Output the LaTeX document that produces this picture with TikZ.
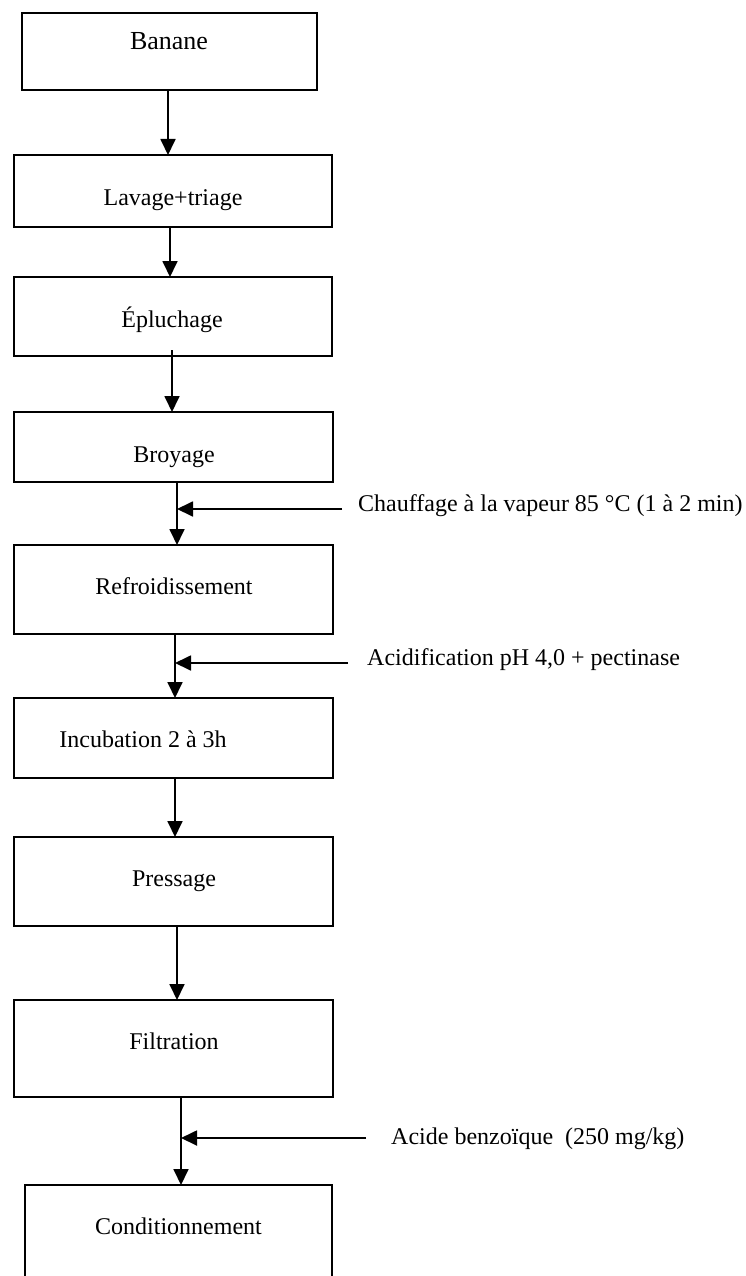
\documentclass[tikz,border=0pt]{standalone}
\usepackage{fontspec}
\setmainfont{Liberation Serif}
\usetikzlibrary{arrows.meta}
\begin{document}
\begin{tikzpicture}[x=1pt,y=-1pt,
  stepbox/.style={draw=black, line width=2pt, rectangle, inner sep=0pt, outer sep=0pt},
  lbl/.style={anchor=base, inner sep=0pt, font=\fontsize{24}{28}\selectfont},
  sidelbl/.style={anchor=base west, inner sep=0pt, font=\fontsize{24}{28}\selectfont},
  flow/.style={line width=1.8pt, -{Triangle[length=16pt,width=15pt]}}]
\useasboundingbox (0,0) rectangle (746,1276);
\clip (0,0) rectangle (746,1276);

% process boxes
\node[stepbox, minimum width=295pt, minimum height=77pt] (b1) at (169.5,51.5) {};
\node[stepbox, minimum width=318pt, minimum height=72pt] (b2) at (173,191) {};
\node[stepbox, minimum width=318pt, minimum height=79pt] (b3) at (173,316.5) {};
\node[stepbox, minimum width=319pt, minimum height=70pt] (b4) at (173.5,447) {};
\node[stepbox, minimum width=319pt, minimum height=89pt] (b5) at (173.5,589.5) {};
\node[stepbox, minimum width=319pt, minimum height=80pt] (b6) at (173.5,738) {};
\node[stepbox, minimum width=319pt, minimum height=89pt] (b7) at (173.5,881.5) {};
\node[stepbox, minimum width=319pt, minimum height=97pt] (b8) at (173.5,1048.5) {};
\node[stepbox, minimum width=307pt, minimum height=130pt] (b9) at (178.5,1250) {};

% box captions
\node[lbl, font=\fontsize{26}{30}\selectfont] (t1) at (169,50) {Banane};
\node[lbl] (t2) at (173,205) {Lavage+triage};
\node[lbl] (t3) at (172,327) {Épluchage};
\node[lbl] (t4) at (174,462) {Broyage};
\node[lbl] (t5) at (174,594) {Refroidissement};
\node[lbl] (t6) at (143,747) {Incubation 2 à 3h};
\node[lbl] (t7) at (174,886) {Pressage};
\node[lbl] (t8) at (174,1049) {Filtration};
\node[lbl] (t9) at (178.5,1234) {Conditionnement};

% main flow
\draw[flow] (b1.south -| 168,0) -- (b2.north -| 168,0);
\draw[flow] (b2.south -| 170,0) -- (b3.north -| 170,0);
\draw[flow] ([yshift=6pt]b3.south -| 172,0) -- (b4.north -| 172,0);
\draw[flow] (b4.south -| 177,0) -- (b5.north -| 177,0);
\draw[flow] (b5.south -| 175,0) -- (b6.north -| 175,0);
\draw[flow] (b6.south -| 175,0) -- (b7.north -| 175,0);
\draw[flow] (b7.south -| 177,0) -- (b8.north -| 177,0);
\draw[flow] (b8.south -| 181,0) -- (b9.north -| 181,0);

% additions
\node[sidelbl] (a1) at (358,511) {Chauffage à la vapeur 85 °C (1 à 2 min)};
\node[sidelbl] (a2) at (367,665) {Acidification pH 4,0 + pectinase};
\node[sidelbl] (a3) at (391,1144) {Acide benzoïque~~(250 mg/kg)};
\coordinate (s1) at (342,509);
\coordinate (s2) at (348,663);
\coordinate (s3) at (366,1138);
\draw[flow] (s1) -- (s1 -| 177,0);
\draw[flow] (s2) -- (s2 -| 175,0);
\draw[flow] (s3) -- (s3 -| 181,0);
\end{tikzpicture}
\end{document}
